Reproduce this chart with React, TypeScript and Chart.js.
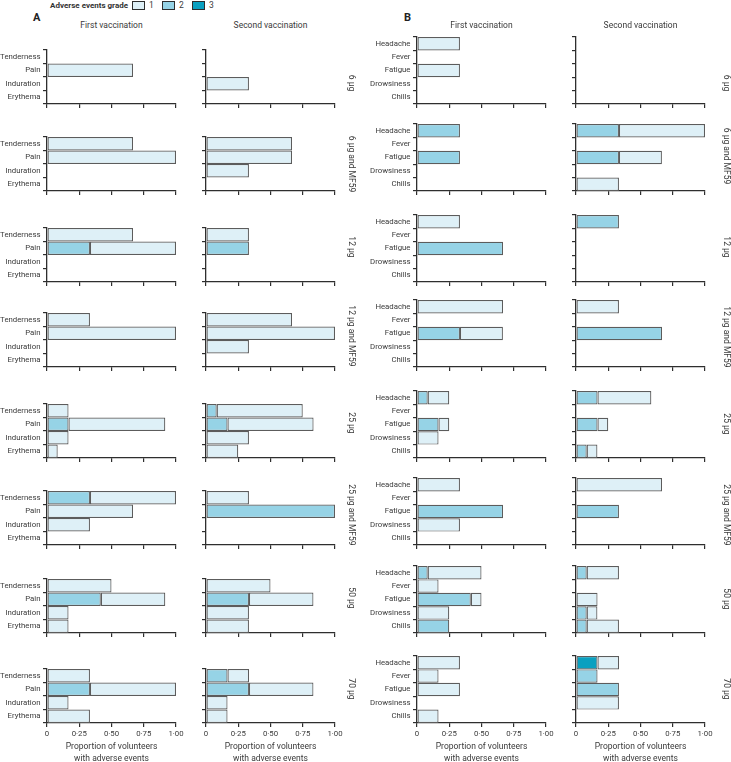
import React, { useEffect, useRef } from "react";
import { Chart, registerables } from "chart.js";
Chart.register(...registerables);

// ---------- categories & labels ----------
const LOCAL_EVENTS = ["Tenderness", "Pain", "Induration", "Erythema"];
const SYSTEMIC_EVENTS = ["Headache", "Fever", "Fatigue", "Drowsiness", "Chills"];
const DOSE_GROUPS = ["6 µg", "6 µg and MF59", "12 µg", "12 µg and MF59", "25 µg", "25 µg and MF59", "50 µg", "70 µg"];
const VACCINATIONS = ["First vaccination", "Second vaccination"];
const GRADES = ["1", "2", "3"];
const X_TICK_LABELS = ["0", "0·25", "0·50", "0·75", "1·00"];
const X_TITLE = ["Proportion of volunteers", "with adverse events"];

// ---------- values (segment lengths per grade; rows = dose groups) ----------
const localFirstG1 = [
  [0, 0.667, 0, 0],
  [0.667, 1, 0, 0],
  [0.667, 0.667, 0, 0],
  [0.333, 1, 0, 0],
  [0.167, 0.75, 0.167, 0.083],
  [0.667, 0.667, 0.333, 0],
  [0.5, 0.5, 0.167, 0.167],
  [0.333, 0.667, 0.167, 0.333],
];
const localFirstG2 = [
  [0, 0, 0, 0],
  [0, 0, 0, 0],
  [0, 0.333, 0, 0],
  [0, 0, 0, 0],
  [0, 0.167, 0, 0],
  [0.333, 0, 0, 0],
  [0, 0.417, 0, 0],
  [0, 0.333, 0, 0],
];
const localFirstG3 = [
  [0, 0, 0, 0], [0, 0, 0, 0], [0, 0, 0, 0], [0, 0, 0, 0],
  [0, 0, 0, 0], [0, 0, 0, 0], [0, 0, 0, 0], [0, 0, 0, 0],
];
const localSecondG1 = [
  [0, 0, 0.333, 0],
  [0.667, 0.667, 0.333, 0],
  [0.333, 0, 0, 0],
  [0.667, 1, 0.333, 0],
  [0.667, 0.667, 0.333, 0.25],
  [0.333, 0, 0, 0],
  [0.5, 0.5, 0.333, 0.333],
  [0.167, 0.5, 0.167, 0.167],
];
const localSecondG2 = [
  [0, 0, 0, 0],
  [0, 0, 0, 0],
  [0, 0.333, 0, 0],
  [0, 0, 0, 0],
  [0.083, 0.167, 0, 0],
  [0, 1, 0, 0],
  [0, 0.333, 0, 0],
  [0.167, 0.333, 0, 0],
];
const localSecondG3 = [
  [0, 0, 0, 0], [0, 0, 0, 0], [0, 0, 0, 0], [0, 0, 0, 0],
  [0, 0, 0, 0], [0, 0, 0, 0], [0, 0, 0, 0], [0, 0, 0, 0],
];
const systemicFirstG1 = [
  [0.333, 0, 0.333, 0, 0],
  [0, 0, 0, 0, 0],
  [0.333, 0, 0, 0, 0],
  [0.667, 0, 0.333, 0, 0],
  [0.167, 0, 0.083, 0.167, 0],
  [0.333, 0, 0, 0.333, 0],
  [0.417, 0.167, 0.083, 0.25, 0],
  [0.333, 0.167, 0.333, 0, 0.167],
];
const systemicFirstG2 = [
  [0, 0, 0, 0, 0],
  [0.333, 0, 0.333, 0, 0],
  [0, 0, 0.667, 0, 0],
  [0, 0, 0.333, 0, 0],
  [0.083, 0, 0.167, 0, 0],
  [0, 0, 0.667, 0, 0],
  [0.083, 0, 0.417, 0, 0.25],
  [0, 0, 0, 0, 0],
];
const systemicFirstG3 = [
  [0, 0, 0, 0, 0], [0, 0, 0, 0, 0], [0, 0, 0, 0, 0], [0, 0, 0, 0, 0],
  [0, 0, 0, 0, 0], [0, 0, 0, 0, 0], [0, 0, 0, 0, 0], [0, 0, 0, 0, 0],
];
const systemicSecondG1 = [
  [0, 0, 0, 0, 0],
  [0.667, 0, 0.333, 0, 0.333],
  [0, 0, 0, 0, 0],
  [0.333, 0, 0, 0, 0],
  [0.417, 0, 0.083, 0, 0.083],
  [0.667, 0, 0, 0, 0],
  [0.25, 0, 0.167, 0.083, 0.25],
  [0.167, 0, 0, 0.333, 0],
];
const systemicSecondG2 = [
  [0, 0, 0, 0, 0],
  [0.333, 0, 0.333, 0, 0],
  [0.333, 0, 0, 0, 0],
  [0, 0, 0.667, 0, 0],
  [0.167, 0, 0.167, 0, 0.083],
  [0, 0, 0.333, 0, 0],
  [0.083, 0, 0, 0.083, 0.083],
  [0, 0.167, 0.333, 0, 0],
];
const systemicSecondG3 = [
  [0, 0, 0, 0, 0], [0, 0, 0, 0, 0], [0, 0, 0, 0, 0], [0, 0, 0, 0, 0],
  [0, 0, 0, 0, 0], [0, 0, 0, 0, 0], [0, 0, 0, 0, 0],
  [0.167, 0, 0, 0, 0],
];

// ---------- layout & style ----------
const FONT = "Roboto, 'Liberation Sans', sans-serif";
const TEXT = "#3a3a3a";
const AXIS = "#2e2e2e";
const BAR_BORDER = "#5c5c5c";
const GRADE_COLORS = ["#def0f7", "#96d3e6", "#0aa0c0"];
const PLOT_LEFT = [[47, 206], [417, 576]];
const CANVAS_LEFT_COL1 = [0, 358];
const PLOT_W = 129;
const ROW_BOTTOM = [104, 191, 282, 367, 458, 545, 633, 723];
const CAT_H = 13.4;
const DOSE_Y = [[83, 164, 247, 336, 423, 515, 598, 689], [83, 156, 247, 337, 424, 515, 599, 689]];
const DOSE_X = [351, 726];

const PAD_TOP = 12;
const PAD_RIGHT = 16;
const X_H = 24;
const TICK_FONT = 7.8;
const TEXT_FONT = 8.5;

type SmallProps = {
  labels: string[];
  g1: number[];
  g2: number[];
  g3: number[];
  showY: boolean;
  showX: boolean;
  plotLeft: number;
  canvasLeft: number;
  plotBottom: number;
};

function SmallChart(p: SmallProps) {
  const ref = useRef<HTMLCanvasElement>(null);
  const yW = p.plotLeft - p.canvasLeft;
  const plotH = Math.round(p.labels.length * CAT_H);
  const width = yW + PLOT_W + PAD_RIGHT;
  const height = PAD_TOP + plotH + X_H;
  const left = p.canvasLeft;
  const top = p.plotBottom - plotH - PAD_TOP;

  useEffect(() => {
    if (!ref.current) return;
    const font = { family: FONT, size: TICK_FONT };
    const mk = (data: number[], gi: number) => ({
      label: "Grade " + GRADES[gi],
      data: data.map((v) => (v > 0 ? v : null)),
      backgroundColor: GRADE_COLORS[gi],
      borderColor: BAR_BORDER,
      borderWidth: 1.2,
      borderSkipped: false as const,
      inflateAmount: 0,
      barPercentage: 1,
      categoryPercentage: 1,
    });
    const chart = new Chart(ref.current, {
      type: "bar",
      data: {
        labels: p.labels,
        datasets: [mk(p.g3, 2), mk(p.g2, 1), mk(p.g1, 0)],
      },
      options: {
        indexAxis: "y",
        responsive: false,
        animation: false,
        layout: { padding: { top: PAD_TOP, right: PAD_RIGHT, left: 0, bottom: 0 } },
        plugins: { legend: { display: false }, tooltip: { enabled: false } },
        scales: {
          x: {
            type: "linear",
            min: 0,
            max: 1,
            stacked: true,
            ticks: {
              display: p.showX,
              stepSize: 0.25,
              padding: 2,
              maxRotation: 0,
              autoSkip: false,
              color: TEXT,
              font,
              callback: (_v: any, i: number) => X_TICK_LABELS[i],
            },
            grid: { drawOnChartArea: false, drawTicks: true, tickLength: 4, color: AXIS, lineWidth: 1.2 },
            border: { display: true, color: AXIS, width: 1.3 },
            afterFit: (s: any) => { s.height = X_H; },
          },
          y: {
            type: "category",
            stacked: true,
            offset: true,
            ticks: { display: p.showY, padding: 2.5, autoSkip: false, color: TEXT, font },
            grid: { offset: true, drawOnChartArea: false, drawTicks: true, tickLength: 4, color: AXIS, lineWidth: 1.2 },
            border: { display: true, color: AXIS, width: 1.3 },
            afterFit: (s: any) => { s.width = yW; },
          },
        },
      } as any,
    });
    return () => chart.destroy();
  }, []);

  return (
    <canvas
      ref={ref}
      width={width}
      height={height}
      style={{ position: "absolute", left, top, width, height }}
    />
  );
}

const txt = (extra: React.CSSProperties): React.CSSProperties => ({
  position: "absolute",
  whiteSpace: "nowrap",
  color: TEXT,
  fontFamily: FONT,
  fontSize: TEXT_FONT,
  lineHeight: "11px",
  ...extra,
});

export default function App() {
  const panels = [
    { events: LOCAL_EVENTS, data: [[localFirstG1, localFirstG2, localFirstG3], [localSecondG1, localSecondG2, localSecondG3]] },
    { events: SYSTEMIC_EVENTS, data: [[systemicFirstG1, systemicFirstG2, systemicFirstG3], [systemicSecondG1, systemicSecondG2, systemicSecondG3]] },
  ];
  const charts: React.ReactNode[] = [];
  const texts: React.ReactNode[] = [];

  panels.forEach((panel, pi) => {
    [0, 1].forEach((vi) => {
      const [g1s, g2s, g3s] = panel.data[vi];
      const plotLeft = PLOT_LEFT[pi][vi];
      const canvasLeft = vi === 0 ? CANVAS_LEFT_COL1[pi] : plotLeft - 12;
      DOSE_GROUPS.forEach((_d, ri) => {
        charts.push(
          <SmallChart
            key={`c${pi}${vi}${ri}`}
            labels={panel.events}
            g1={g1s[ri]}
            g2={g2s[ri]}
            g3={g3s[ri]}
            showY={vi === 0}
            showX={ri === DOSE_GROUPS.length - 1}
            plotLeft={plotLeft}
            canvasLeft={canvasLeft}
            plotBottom={ROW_BOTTOM[ri]}
          />
        );
      });
      const cx = plotLeft + PLOT_W / 2;
      texts.push(
        <div key={`t${pi}${vi}`} style={txt({ left: cx, top: 25, transform: "translate(-50%,-50%)" })}>
          {VACCINATIONS[vi]}
        </div>
      );
      texts.push(
        <div key={`x${pi}${vi}`} style={txt({ left: cx, top: 741, transform: "translateX(-50%)", textAlign: "center", lineHeight: "11.5px" })}>
          {X_TITLE[0]}
          <br />
          {X_TITLE[1]}
        </div>
      );
    });
    DOSE_GROUPS.forEach((d, ri) => {
      texts.push(
        <div
          key={`d${pi}${ri}`}
          style={txt({ left: DOSE_X[pi], top: DOSE_Y[pi][ri], transform: "translate(-50%,-50%) rotate(90deg)" })}
        >
          {d}
        </div>
      );
    });
  });

  return (
    <div style={{ position: "absolute", left: 0, top: 0, width: 731, height: 762, background: "#fff", overflow: "hidden" }}>
      <div style={txt({ right: 731 - 128, top: 0, fontWeight: "bold", fontSize: 8, color: "#333" })}>Adverse events grade</div>
      {GRADES.map((g, i) => (
        <React.Fragment key={g}>
          <div
            style={{
              position: "absolute",
              left: 132 + i * 30,
              top: 1,
              width: 11,
              height: 7,
              background: GRADE_COLORS[i],
              border: `1.2px solid ${AXIS}`,
            }}
          />
          <div style={txt({ left: 149 + i * 30, top: 0 })}>{g}</div>
        </React.Fragment>
      ))}
      <div style={txt({ left: 33, top: 12, fontWeight: "bold", fontSize: 11, color: "#222" })}>A</div>
      <div style={txt({ left: 404, top: 12, fontWeight: "bold", fontSize: 11, color: "#222" })}>B</div>
      {charts}
      {texts}
    </div>
  );
}
